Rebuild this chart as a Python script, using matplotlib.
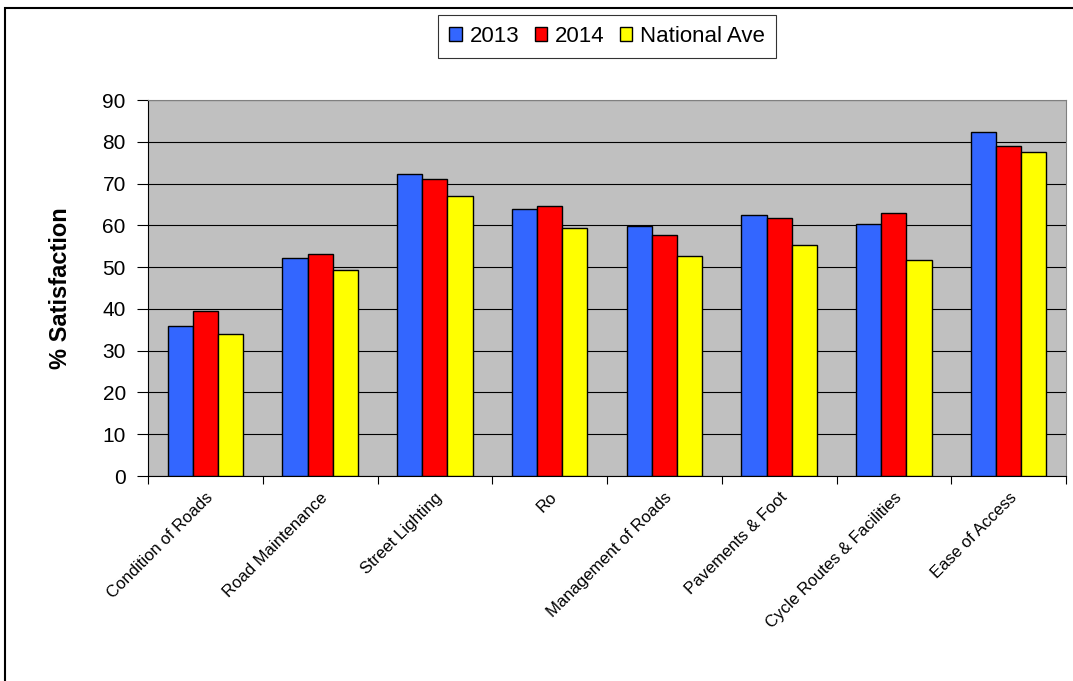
import numpy as np
import matplotlib.pyplot as plt
from matplotlib.patches import Rectangle

plt.rcParams['font.family'] = ['Liberation Sans', 'DejaVu Sans']

# Categories and values
categories = ["Condition of Roads", "Road Maintenance", "Street Lighting", "Ro",
              "Management of Roads", "Pavements & Foot", "Cycle Routes & Facilities",
              "Ease of Access"]
series_names = ["2013", "2014", "National Ave"]
values_2013 = [36.0, 52.1, 72.4, 63.9, 59.9, 62.5, 60.3, 82.3]
values_2014 = [39.6, 53.1, 71.1, 64.7, 57.6, 61.7, 63.0, 79.1]
values_nat = [34.1, 49.4, 67.0, 59.4, 52.7, 55.3, 51.7, 77.5]
colors = ["#3366FF", "#FF0000", "#FFFF00"]
y_ticks = list(range(0, 91, 10))

fig = plt.figure(figsize=(10.73, 6.81), dpi=100)
ax = fig.add_axes([148 / 1073, 1 - 476 / 681, (1066 - 148) / 1073, (476 - 100) / 681])

# outer chart-area border (only top and left visible in the reference)
fig.patches.append(Rectangle((5 / 1073, -0.1), 1.2, 1 - 8 / 681 + 0.1,
                             transform=fig.transFigure, fill=False,
                             edgecolor='black', linewidth=1.5))

x = np.arange(len(categories))
w = 0.22
for i, (vals, name, c) in enumerate(zip([values_2013, values_2014, values_nat],
                                        series_names, colors)):
    ax.bar(x + (i - 1) * w, vals, width=w, color=c, edgecolor='black',
           linewidth=1.0, label=name, zorder=3)

ax.set_facecolor('#C0C0C0')
ax.set_xlim(-0.5, len(categories) - 0.5)
ax.set_ylim(0, 90)
ax.set_yticks(y_ticks)
ax.yaxis.grid(True, color='black', linewidth=0.8, zorder=0)
ax.set_axisbelow(True)
for side in ['top', 'right']:
    ax.spines[side].set_color('#808080')
for side in ['left', 'bottom']:
    ax.spines[side].set_color('black')

ax.set_xticks(np.arange(-0.5, len(categories), 1.0))
ax.set_xticklabels([])
ax.set_xticks(x, minor=True)
ax.set_xticklabels(categories, minor=True, rotation=45, ha='right',
                   rotation_mode='anchor', fontsize=12)
ax.tick_params(axis='x', which='minor', length=0, pad=10)
ax.tick_params(axis='x', which='major', length=6, direction='out')
ax.tick_params(axis='y', labelsize=15, length=8, pad=8, direction='out')

ax.set_ylabel('% Satisfaction', fontsize=17, fontweight='bold', labelpad=22)

leg = ax.legend(loc='lower center', bbox_to_anchor=(0.5, 1.112), ncol=3,
                fontsize=16, frameon=True, fancybox=False, edgecolor='black',
                handlelength=0.55, handleheight=0.55, handletextpad=0.35,
                columnspacing=0.7, borderpad=0.5, borderaxespad=0)
leg.get_frame().set_linewidth(0.8)

fig.savefig('out.png', dpi=100)
